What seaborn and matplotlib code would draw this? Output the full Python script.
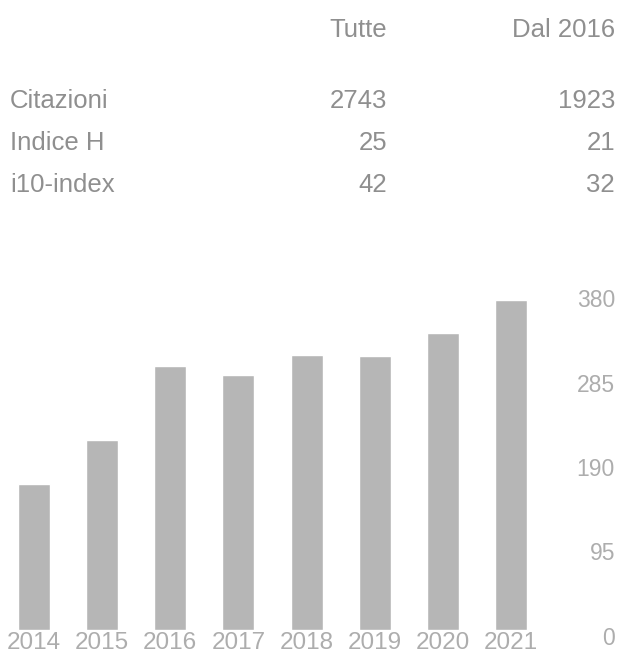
import matplotlib
matplotlib.use("Agg")
import matplotlib.pyplot as plt
import matplotlib.transforms as mtransforms
import seaborn as sns
import pandas as pd

# ---- data ----
years = ["2014", "2015", "2016", "2017", "2018", "2019", "2020", "2021"]
citations = [164, 214, 297, 287, 310, 309, 335, 372]
y_ticks = [0, 95, 190, 285, 380]

col_headers = ["Tutte", "Dal 2016"]
row_labels = ["Citazioni", "Indice H", "i10-index"]
vals_all = [2743, 25, 42]
vals_since = [1923, 21, 32]

sns.set_theme(style="white")
plt.rcParams["font.family"] = ["Liberation Sans", "DejaVu Sans"]

W, H = 624, 660
fig = plt.figure(figsize=(W / 100, H / 100), dpi=100)
fig.patch.set_facecolor("white")

def fx(px):
    return px / W

def fy(py):
    return 1 - py / H

text_color = "#8f8f8f"
tick_color = "#adadad"
bar_color = "#b6b6b6"

# ---- table ----
tsize = 18.5
col_right = [387, 615]
for x, h in zip(col_right, col_headers):
    fig.text(fx(x), fy(30), h, ha="right", va="center", fontsize=tsize, color=text_color)
row_y = [101, 143, 185]
for y, lab, a, s in zip(row_y, row_labels, vals_all, vals_since):
    fig.text(fx(10), fy(y), lab, ha="left", va="center", fontsize=tsize, color=text_color)
    fig.text(fx(col_right[0]), fy(y), str(a), ha="right", va="center", fontsize=tsize, color=text_color)
    fig.text(fx(col_right[1]), fy(y), str(s), ha="right", va="center", fontsize=tsize, color=text_color)

# ---- bar chart ----
ax_left, ax_right = 0, 545
ax_bottom, ax_top_val = 630, 292.6
ax = fig.add_axes([fx(ax_left), fy(ax_bottom), fx(ax_right - ax_left), (ax_bottom - ax_top_val) / H])
df = pd.DataFrame({"year": years, "citations": citations})
sns.barplot(data=df, x="year", y="citations", color=bar_color, saturation=1,
            width=0.47, ax=ax)
ax.set_xlim(-0.5, len(years) - 0.5)
ax.set_ylim(0, 380)
ax.set_xlabel("")
ax.set_ylabel("")
for sp in ax.spines.values():
    sp.set_visible(False)
ax.set_facecolor("none")

ax.yaxis.tick_right()
ax.set_yticks(y_ticks)
ax.set_yticklabels([str(t) for t in y_ticks])
ax.tick_params(axis="y", length=0, pad=50.4, labelsize=16.5, labelcolor=tick_color)
ax.tick_params(axis="x", length=0, pad=1.5, labelsize=17.5, labelcolor=tick_color)
off = mtransforms.ScaledTranslation(0, -4 / 72, fig.dpi_scale_trans)
for lab in ax.get_yticklabels():
    lab.set_horizontalalignment("right")
    lab.set_transform(lab.get_transform() + off)

fig.savefig("out.png", dpi=100, facecolor="white")
